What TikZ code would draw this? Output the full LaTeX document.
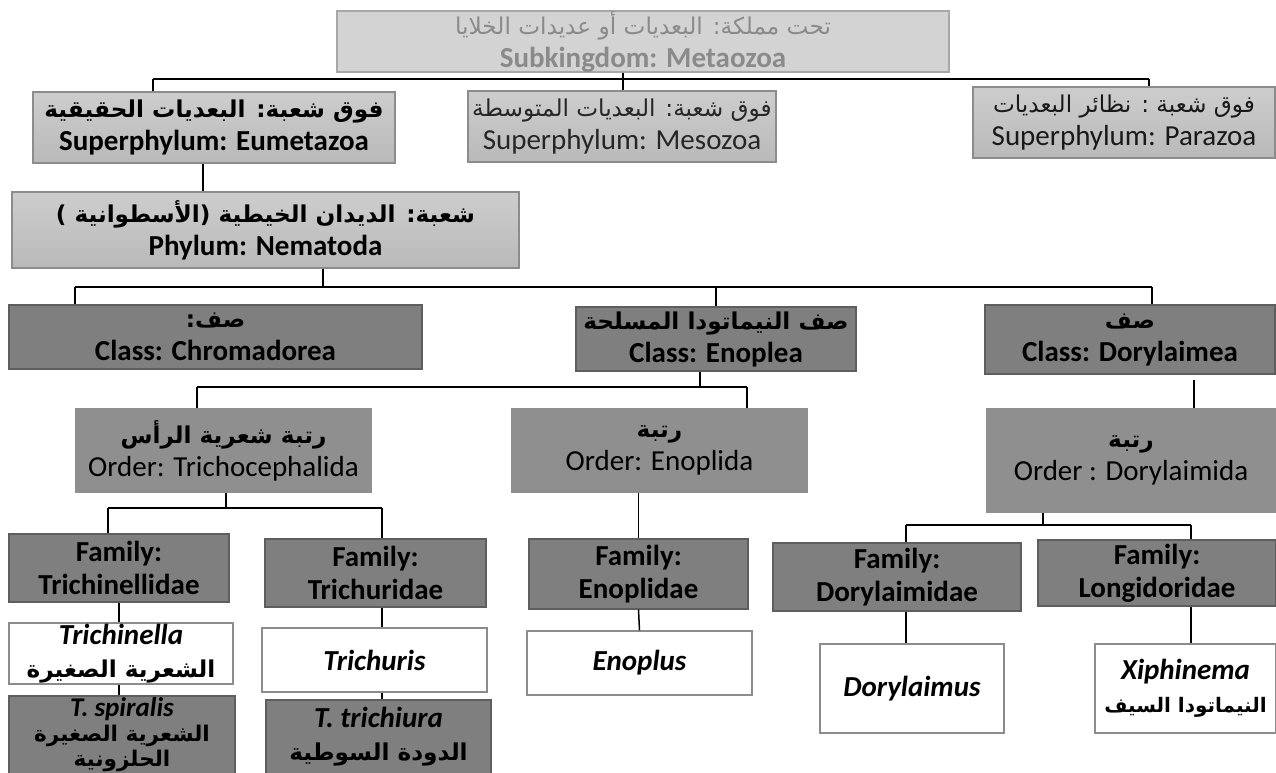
\documentclass[tikz,border=0pt]{standalone}
\usepackage{fontspec}
\setmainfont{Carlito}
\newfontfamily\arabicfont[Script=Arabic,Scale=0.8]{DejaVu Sans}
\TeXXeTstate=1
\usepackage{tikz}
\definecolor{kingfill}{HTML}{D3D3D3}
\definecolor{kingline}{HTML}{A8A8A8}
\definecolor{kingtext}{HTML}{8A8A8A}
\definecolor{suptop}{HTML}{CDCDCD}
\definecolor{supbot}{HTML}{B9B9B9}
\definecolor{supline}{HTML}{8C8C8C}
\definecolor{darkfill}{HTML}{7F7F7F}
\definecolor{darkline}{HTML}{5E5E5E}
\definecolor{orderfill}{HTML}{8F8F8F}
\definecolor{genline}{HTML}{8C8C8C}
\newcommand{\artext}[1]{{\arabicfont\beginR #1\endR}}
\newcommand{\boxfont}{\fontsize{29}{33}\selectfont}
\tikzset{
	box/.style={rectangle,draw,inner sep=0pt,align=center,line width=1.3pt,font=\boxfont},
	king node/.style={box,draw=kingline,fill=kingfill,text=kingtext},
	super node/.style={box,draw=supline,top color=suptop,bottom color=supbot},
	phylum node/.style={super node,font=\boxfont\bfseries},
	class node/.style={box,draw=darkline,fill=darkfill,font=\boxfont\bfseries},
	order node/.style={box,draw=orderfill,fill=orderfill},
	family node/.style={class node},
	genus node/.style={box,draw=genline,fill=white,font=\boxfont\bfseries},
	species node/.style={class node}
}

\begin{document}
\begin{tikzpicture}[x=1pt,y=-1pt,line width=1.5pt]
	\useasboundingbox (0,0) rectangle (1276,773);
	\clip (0,0) rectangle (1276,773);
	\node [king node,minimum width=612pt,minimum height=61pt] (king) at (643,41.5)
		{\artext{تحت مملكة:  البعديات أو عديدات الخلايا}\\\textbf{Subkingdom: Metaozoa}};
	\node [super node,minimum width=362pt,minimum height=71pt,font=\boxfont\bfseries] (eum) at (214,127.5)
		{\artext{فوق شعبة:  البعديات الحقيقية}\\Superphylum: Eumetazoa};
	\node [super node,minimum width=308pt,minimum height=71pt,text=black!85] (meso) at (622,126.5)
		{\artext{فوق شعبة: البعديات المتوسطة}\\Superphylum: Mesozoa};
	\node [super node,minimum width=302pt,minimum height=71pt,text=black!90] (para) at (1124,122.5)
		{\artext{فوق شعبة : نظائر البعديات}\\Superphylum: Parazoa};
	\node [phylum node,minimum width=507pt,minimum height=76pt] (phy) at (265.5,230)
		{\artext{شعبة:  الديدان الخيطية (الأسطوانية )}\\Phylum: Nematoda};
	\node [class node,minimum width=413pt,minimum height=64pt] (chro) at (215.5,337)
		{\artext{صف:}\\Class: Chromadorea};
	\node [class node,minimum width=280pt,minimum height=64pt] (enoplea) at (716,339)
		{\artext{صف النيماتودا المسلحة}\\Class:  Enoplea};
	\node [class node,minimum width=290pt,minimum height=69pt] (dory) at (1130,339.5)
		{\artext{صف}\\Class:  Dorylaimea};
	\node [order node,minimum width=295pt,minimum height=83pt] (tricho) at (223.5,450.5)
		{\textbf{\artext{رتبة شعرية الرأس}}\\Order: Trichocephalida};
	\node [order node,minimum width=295pt,minimum height=83pt] (enoplida) at (659.5,450.5)
		{\textbf{\artext{رتبة}}\\Order: Enoplida};
	\node [order node,minimum width=288pt,minimum height=103pt] (dorida) at (1131,460.5)
		{\textbf{\artext{رتبة}}\\Order : Dorylaimida};
	\node [family node,minimum width=220pt,minimum height=68pt] (tnel) at (119,568)
		{Family:\\Trichinellidae};
	\node [family node,minimum width=221pt,minimum height=68pt] (tcur) at (375.5,573)
		{Family:\\Trichuridae};
	\node [family node,minimum width=219pt,minimum height=70pt] (enoplidae) at (638.5,574)
		{Family:\\Enoplidae};
	\node [family node,minimum width=248pt,minimum height=68pt] (dmid) at (897,577)
		{Family:\\Dorylaimidae};
	\node [family node,minimum width=238pt,minimum height=66pt] (longi) at (1157,573)
		{Family:\\Longidoridae};
	\node [genus node,minimum width=224pt,minimum height=61pt] (tnella) at (121,653.5)
		{\textit{Trichinella}\\\artext{الشعرية الصغيرة}};
	\node [genus node,minimum width=225pt,minimum height=64pt] (tcuris) at (374.5,660)
		{\textit{Trichuris}};
	\node [genus node,minimum width=225pt,minimum height=64pt] (enoplus) at (639.5,663)
		{\textit{Enoplus}};
	\node [genus node,minimum width=184pt,minimum height=89pt] (dmus) at (912,688.5)
		{\textit{Dorylaimus}};
	\node [genus node,minimum width=181pt,minimum height=89pt] (xiph) at (1185.5,688.5)
		{\textit{Xiphinema}\\{\fontsize{25}{30}\selectfont\artext{النيماتودا السيف}}};
	\node [species node,minimum width=226pt,minimum height=78pt,font=\fontsize{27}{25}\selectfont\bfseries] (spir) at (122,735)
		{\textit{T. spiralis}\\\artext{الشعرية الصغيرة}\\\artext{الحلزونية}};
	\node [species node,minimum width=225pt,minimum height=74pt] (tricha) at (378.5,737)
		{\textit{T. trichiura}\\\artext{الدودة السوطية}};
	\coordinate (jk) at (623,79);
	\coordinate (jkL) at (153,79);
	\coordinate (jkR) at (1149,79);
	\draw (jkL) -- (jkR);
	\draw (jk |- king.south) -- (jk |- meso.north);
	\draw (jkL) -- (jkL |- eum.north);
	\draw (jkR) -- (jkR |- para.north);
	\coordinate (je) at (203,163);
	\draw (je |- eum.south) -- (je |- phy.north);
	\coordinate (jp) at (323,287);
	\coordinate (jpL) at (75,287);
	\coordinate (jpR) at (1152,287);
	\draw (jp |- phy.south) -- (jp);
	\draw (jpL) -- (jpR);
	\draw (jpL) -- (jpL |- chro.north);
	\draw (enoplea.north |- jp) -- (enoplea.north);
	\draw (jpR) -- (jpR |- dory.north);
	\coordinate (jc) at (700,387);
	\coordinate (jcL) at (197,387);
	\coordinate (jcR) at (747,387);
	\draw (jc |- enoplea.south) -- (jc);
	\draw (jcL) -- (jcR);
	\draw (jcL) -- (jcL |- tricho.north);
	\draw (jcR) -- (jcR |- enoplida.north);
	\coordinate (jd) at (1194,380);
	\draw (jd) -- (jd |- dorida.north);
	\coordinate (jt) at (226,508);
	\coordinate (jtL) at (108,508);
	\coordinate (jtR) at (382,508);
	\draw (jt |- tricho.south) -- (jt);
	\draw (jtL) -- (jtR);
	\draw (jtL) -- (jtL |- tnel.north);
	\draw (jtR) -- (jtR |- tcur.north);
	\draw (enoplida.south -| enoplidae.north) -- (enoplidae.north);
	\coordinate (jo) at (1043,525);
	\coordinate (joL) at (906,525);
	\coordinate (joR) at (1191,525);
	\draw (jo |- dorida.south) -- (jo);
	\draw (joL) -- (joR);
	\draw (joL) -- (joL |- dmid.north);
	\draw (joR) -- (joR |- longi.north);
	\draw (tnel.south) -- (tnel.south |- tnella.north);
	\draw (tnel.south |- tnella.south) -- (tnel.south |- spir.north);
	\draw (jtR |- tcur.south) -- (jtR |- tcuris.north);
	\draw (jtR |- tcuris.south) -- (jtR |- tricha.north);
	\draw (enoplidae.south) -- (enoplus.north);
	\draw (joL |- dmid.south) -- (joL |- dmus.north);
	\draw (joR |- longi.south) -- (joR |- xiph.north);
\end{tikzpicture}
\end{document}
